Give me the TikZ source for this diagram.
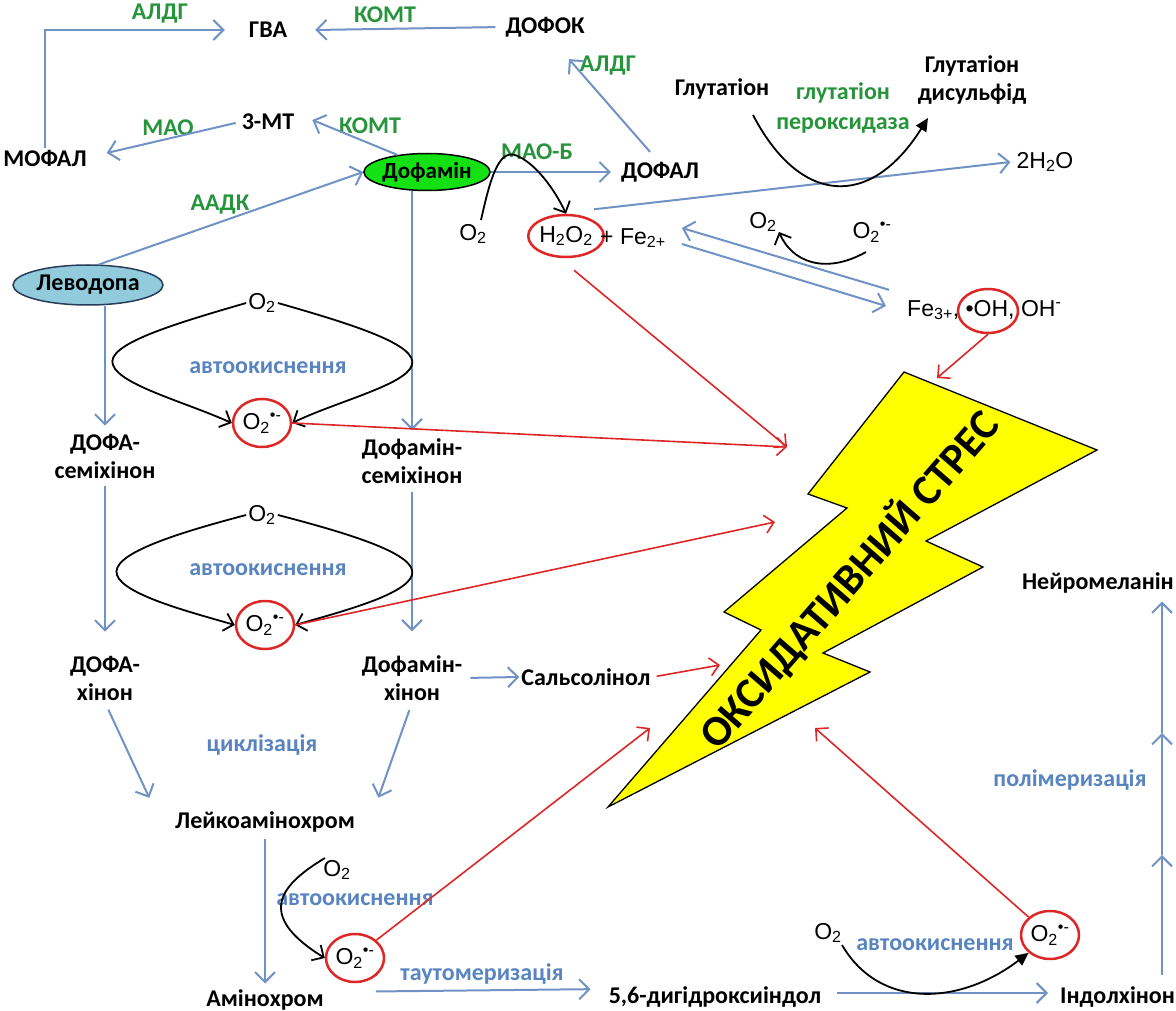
\documentclass[tikz,border=0pt]{standalone}
\usepackage{fontspec}
\setmainfont{Carlito}
\newfontfamily\chemf{Liberation Sans}
\usetikzlibrary{arrows.meta,shapes.geometric}
\definecolor{ablue}{RGB}{112,146,196}
\definecolor{tblue}{RGB}{88,132,192}
\definecolor{egreen}{RGB}{38,148,58}
\definecolor{ared}{RGB}{222,38,38}
\definecolor{levofill}{RGB}{146,203,220}
\definecolor{levoline}{RGB}{40,60,90}
\definecolor{dopafill}{RGB}{20,225,20}
\definecolor{boltyellow}{RGB}{255,255,0}
\begin{document}
\begin{tikzpicture}[x=1pt,y=-1pt,
 lbl/.style={font=\bfseries\fontsize{24}{28}\selectfont, align=center, inner sep=2pt},
 enz/.style={font=\bfseries\fontsize{24}{30}\selectfont, text=egreen, align=center, inner sep=1pt},
 proc/.style={font=\bfseries\fontsize{24}{28}\selectfont, text=tblue, inner sep=1pt},
 chem/.style={font=\chemf\fontsize{23}{26}\selectfont, inner sep=2pt},
 barrow/.style={draw=ablue, line width=2pt, -{Straight Barb[length=10pt,width=20pt]}},
 rarrow/.style={draw=ared, line width=1.6pt, -{Straight Barb[length=9pt,width=18pt]}},
 karrow/.style={draw=black, line width=1.8pt, -{Straight Barb[length=9pt,width=18pt]}},
 kfill/.style={draw=black, line width=1.8pt, -{Triangle[length=13pt,width=12pt]}},
 ros/.style={ellipse, draw=ared, line width=2.5pt, inner sep=0pt, minimum width=58pt, minimum height=48pt, font=\chemf\fontsize{23}{26}\selectfont},
 boltstyle/.style={draw=black, line width=1.3pt, fill=boltyellow},
]
\useasboundingbox (0,0) rectangle (1176,1011);

% lightning bolt
\draw[boltstyle] (904,372) -- (1097,450) -- (926,541) -- (983,567) -- (823,653) -- (870,672) -- (608,807) -- (761,630) -- (724,612) -- (847,508) -- (808,494) -- cycle;
\node[rotate=49, font=\bfseries\fontsize{43}{46}\selectfont, inner sep=0pt] (stress) at (849,580) {ОКСИДАТИВНИЙ СТРЕС};

% main nodes
\node[lbl] (gva) at (268,30) {ГВА};
\node[lbl] (dofok) at (545,27) {ДОФОК};
\node[lbl] (mofal) at (45,158) {МОФАЛ};
\node[lbl] (mt) at (268,122) {3-МТ};
\node[ellipse, draw=black, line width=1.5pt, fill=dopafill, minimum width=110pt, minimum height=37pt, inner sep=0pt, font=\bfseries\fontsize{23}{24}\selectfont] (dopa) at (427,172) {Дофамін};
\node[lbl] (dofal) at (660,172) {ДОФАЛ};
\node[ellipse, draw=levoline, line width=1.5pt, fill=levofill, minimum width=150pt, minimum height=40pt, inner sep=0pt, font=\bfseries\fontsize{24}{24}\selectfont] (levo) at (88,285) {Леводопа};

\node[chem] (o2a) at (473,234) {O\textsubscript{2}};
\node[ros, minimum width=68pt, minimum height=42pt] (h2o2) at (566,236) {H\textsubscript{2}O\textsubscript{2}};
\node[chem, anchor=west] (fe2) at (598,238) {+ Fe\textsubscript{2+}};
\node[chem] (h2o) at (1045,162) {2H\textsubscript{2}O};
\node[lbl] (glut) at (722,89) {Глутатіон};
\node[lbl] (gsd) at (972,80) {Глутатіон\\дисульфід};
\node[enz] (gpx) at (843,108) {глутатіон\\пероксидаза};
\node[chem] (o2b) at (763,222) {O\textsubscript{2}};
\node[chem] (o2c) at (872,232) {O\textsubscript{2}\textsuperscript{•-}};
\node[chem, anchor=west] (fe3) at (905,310) {Fe\textsubscript{3+}, •OH, OH\textsuperscript{-}};
\node[ros, minimum width=60pt, minimum height=44pt] (ohc) at (988,311) {};

\node[chem] (o2top) at (262,303) {O\textsubscript{2}};
\node[ros] (ros1) at (262,423) {O\textsubscript{2}\textsuperscript{•-}};
\node[lbl] (dsq) at (105,456) {ДОФА-\\семіхінон};
\node[lbl] (dsem) at (412,461) {Дофамін-\\семіхінон};
\node[chem] (o2mid) at (262,515) {O\textsubscript{2}};
\node[ros] (ros2) at (265,625) {O\textsubscript{2}\textsuperscript{•-}};
\node[lbl] (dq) at (105,678) {ДОФА-\\хінон};
\node[lbl] (dmq) at (412,678) {Дофамін-\\хінон};
\node[lbl] (sals) at (586,677) {Сальсолінол};
\node[lbl] (lei) at (265,822) {Лейкоамінохром};
\node[chem] (o2low) at (337,870) {O\textsubscript{2}};
\node[ros] (ros3) at (355,958) {O\textsubscript{2}\textsuperscript{•-}};
\node[lbl] (amin) at (265,1000) {Амінохром};
\node[lbl] (dhi) at (715,997) {5,6-дигідроксиіндол};
\node[lbl, anchor=west] (ind) at (1058,997) {Індолхінон};
\node[lbl, anchor=east] (nm) at (1176,583) {Нейромеланін};
\node[chem] (o2r) at (828,933) {O\textsubscript{2}};
\node[ros] (ros4) at (1050,935) {O\textsubscript{2}\textsuperscript{•-}};

% enzyme / process labels
\node[enz] (e1) at (160,14) {АЛДГ};
\node[enz] (e2) at (385,15) {КОМТ};
\node[enz] (e3) at (168,128) {МАО};
\node[enz] (e4) at (370,126) {КОМТ};
\node[enz] (e5) at (537,152) {МАО-Б};
\node[enz] (e6) at (608,66) {АЛДГ};
\node[enz] (e7) at (220,205) {ААДК};
\node[proc] (p1) at (268,368) {автоокиснення};
\node[proc] (p2) at (268,570) {автоокиснення};
\node[proc] (p3) at (262,745) {циклізація};
\node[proc] (p4) at (355,900) {автоокиснення};
\node[proc] (p5) at (482,974) {таутомеризація};
\node[proc] (p6) at (935,945) {автоокиснення};
\node[proc] (p7) at (1070,780) {полімеризація};

% blue pathway arrows
\draw[barrow] (mofal.north) |- ([xshift=-22pt]gva.west);
\draw[barrow, shorten <=8pt] (dofok.west) -- ([xshift=26pt]gva.east);
\draw[barrow, shorten <=4pt] (mt.west) -- ([shift={(18,-5)}]mofal.east);
\draw[barrow] (dopa.150) -- ([shift={(16,-2)}]mt.east);
\draw[barrow] (dopa.east) -- ([xshift=-8pt]dofal.west);
\draw[barrow] ([shift={(-10,-8)}]dofal.north) -- ([shift={(24,20)}]dofok.south);
\draw[barrow] (levo.62) -- (dopa.west);
\draw[barrow, shorten <=4pt] ([shift={(24,-4)}]h2o2.north) -- ([xshift=-4pt]h2o.west);
\draw[barrow] ([shift={(-16,-8)}]fe3.north west) -- ([shift={(14,-10)}]fe2.east);
\draw[barrow] ([shift={(14,6)}]fe2.east) -- ([shift={(-19,-4)}]fe3.west);
\draw[barrow, shorten >=6pt] (levo.south -| dsq.north) -- (dsq.north);
\draw[barrow, shorten >=6pt] (dopa.south -| dsem.north) -- (dsem.north);
\draw[barrow, shorten <=6pt, shorten >=22pt] (dsq.south) -- (dq.north);
\draw[barrow, shorten <=6pt, shorten >=22pt] (dsem.south) -- (dmq.north);
\draw[barrow, shorten <=8pt, shorten >=4pt] (dq.south) -- ([shift={(-22,-8)}]lei.north west);
\draw[barrow, shorten <=8pt, shorten >=4pt] (dmq.south) -- ([shift={(20,-8)}]lei.north east);
\draw[barrow, shorten <=6pt] (dmq.east) -- (sals.west);
\draw[barrow, shorten <=4pt, shorten >=4pt] (lei.south -| amin.north) -- (amin.north);
\draw[barrow, shorten <=50pt, shorten >=16pt] ([shift={(0,-8)}]amin.east) -- ([shift={(0,-8)}]dhi.west);
\draw[barrow, shorten <=14pt, shorten >=10pt] ([shift={(0,-4)}]dhi.east) -- ([shift={(0,-4)}]ind.west);
\coordinate (pa) at (1162,975);
\coordinate (pb) at (1162,855);
\coordinate (pc) at (1162,733);
\draw[barrow] (pa) -- (pb);
\draw[barrow] (pb) -- (pc);
\draw[barrow, shorten >=6pt] (pc) -- (pc |- nm.south);

% black reaction curves
\draw[karrow] ([shift={(8,-14)}]o2a.center) .. controls (490,180) and (498,150) .. (515,155) .. controls (535,162) and (555,190) .. (h2o2.north);
\draw[karrow] (o2top.west) .. controls (170,325) and (105,345) .. (113,365) .. controls (120,385) and (185,402) .. (ros1.west);
\draw[karrow] (o2top.east) .. controls (355,325) and (418,345) .. (412,365) .. controls (406,385) and (335,402) .. (ros1.east);
\draw[karrow] (o2mid.west) .. controls (170,535) and (110,555) .. (117,575) .. controls (124,595) and (190,612) .. (ros2.west);
\draw[karrow] (o2mid.east) .. controls (355,535) and (418,555) .. (412,575) .. controls (406,595) and (340,612) .. (ros2.east);
\draw[karrow] ([shift={(-12,-12)}]o2low.center) .. controls (280,885) and (255,915) .. (ros3.west);
\coordinate (g1) at (753,115);
\coordinate (g2) at (928,118);
\draw[kfill] (g1) .. controls (800,205) and (870,210) .. (g2);
\draw[karrow] ([shift={(-6,20)}]o2c.center) .. controls (825,275) and (792,262) .. ([shift={(16,10)}]o2b.center);
\draw[kfill] ([shift={(14,12)}]o2r.center) .. controls (880,1010) and (960,1005) .. (ros4.south west);

% red arrows to oxidative stress
\coordinate (t1) at (787,447);
\coordinate (t2) at (775,522);
\coordinate (t3) at (720,665);
\coordinate (t4) at (650,728);
\coordinate (t5) at (815,728);
\coordinate (t6) at (937,378);
\draw[rarrow] ([shift={(8,12)}]h2o2.south) -- (t1);
\draw[rarrow] (ros1.east) -- (t1);
\draw[rarrow] (ros2.east) -- (t2);
\draw[rarrow, shorten <=4pt] (sals.east) -- (t3);
\draw[rarrow] (ros3.north east) -- (t4);
\draw[rarrow] (ros4.north west) -- (t5);
\draw[rarrow] (ohc.south) -- (t6);
\end{tikzpicture}
\end{document}
